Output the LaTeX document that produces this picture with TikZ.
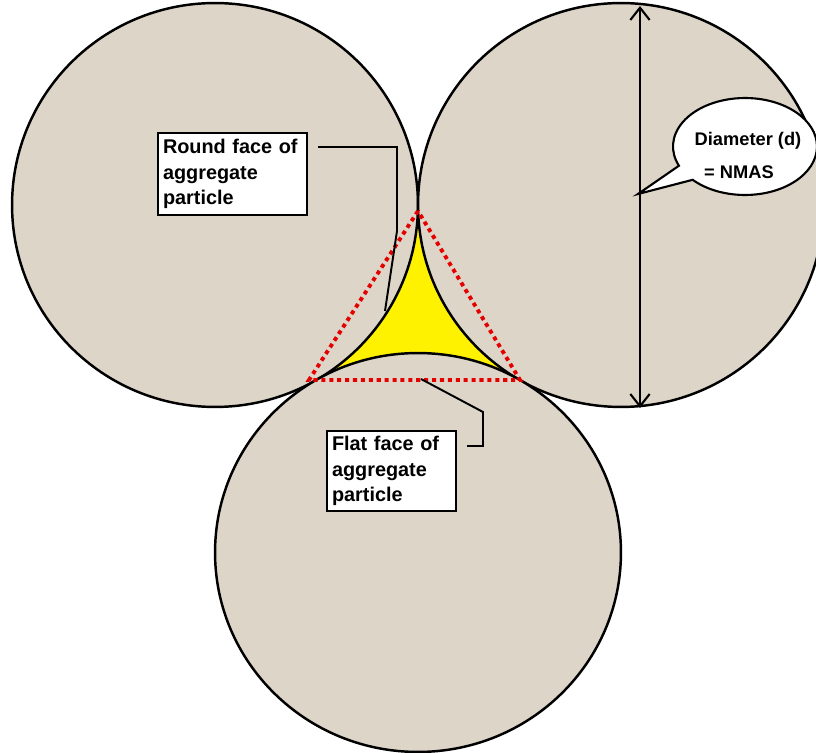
\documentclass[tikz,border=0pt]{standalone}
\usepackage{fontspec}
\setmainfont{Liberation Sans}
\usetikzlibrary{arrows.meta, shapes.callouts, shapes.geometric}

\begin{document}
\begin{tikzpicture}[
    x=0.02cm, y=-0.02cm,
    every node/.style={font=\bfseries\fontsize{11.3}{14.6}\selectfont},
    particle/.style={ellipse, draw=black, fill=sand, line width=1.4pt, minimum width=8.12cm, minimum height=8.08cm, inner sep=0pt, outer sep=0pt},
    labelbox/.style={rectangle, draw=black, fill=white, line width=1.1pt, align=left, inner xsep=0.1cm, inner ysep=0pt, outer sep=0pt},
    leader/.style={line width=1.1pt},
    voidline/.style={red!90!black, line width=2.2pt, dash pattern=on 2.3pt off 2.2pt},
    bubbletext/.style={font=\bfseries\fontsize{10.4}{12}\selectfont}
  ]
    \definecolor{sand}{HTML}{DDD5C8}
    \useasboundingbox (0,0) rectangle (816,753);
    \clip (0,0) rectangle (816,753);
    \fill[white] (0,0) rectangle (816,753);

    % Void between the particles
    \coordinate (tl) at (316,380);
    \coordinate (tr) at (520,380);
    \coordinate (tt) at (418,206);
    \fill[yellow] (tl) -- (tr) -- (tt) -- cycle;

    % Aggregate particles
    \node[particle] at (215,205) (left) {};
    \node[particle] at (621,205) (right) {};
    \node[particle, minimum height=7.98cm] at (418,552.5) (bottom) {};

    % Triangle through the contact points
    \coordinate (rt) at (418,211);
    \coordinate (rl) at (309,380);
    \coordinate (rr) at (520,380);
    \draw[voidline] (rt) -- (rl) -- (rr) -- cycle;

    % Diameter
    \coordinate (dtop) at (640,6);
    \coordinate (dbot) at (640,408);
    \draw[line width=1.2pt, {Straight Barb[length=7pt,width=11pt]}-{Straight Barb[length=7pt,width=11pt]}] (dtop) -- (dbot);

    \node[ellipse callout, draw=black, fill=white, line width=1.2pt, minimum width=2.88cm, minimum height=1.94cm, inner sep=0pt,
      callout absolute pointer={(638,194)}, callout pointer arc=20] at (745,146.5) (bubble) {};
    \node[bubbletext] at (748,141) (bubbletop) {Diameter (d)};
    \node[bubbletext] at (739,172) (bubblebot) {= NMAS};

    % Round face
    \node[labelbox, text width=2.78cm, minimum height=1.64cm] at (232.5,174) (roundbox) {Round face of\\aggregate\\particle};
    \coordinate (r1) at (318,147);
    \coordinate (r2) at (397,147);
    \coordinate (r3) at (397,231);
    \coordinate (r4) at (385,311);
    \draw[leader] (r1) -- (r2) -- (r3) -- (r4);

    % Flat face
    \node[labelbox, text width=2.38cm, minimum height=1.6cm] at (391.5,471) (flatbox) {Flat face of\\aggregate\\particle};
    \coordinate (f1) at (467,446);
    \coordinate (f2) at (483,446);
    \coordinate (f3) at (483,412);
    \coordinate (f4) at (421,379);
    \draw[leader] (f1) -- (f2) -- (f3) -- (f4);
  \end{tikzpicture}
\end{document}
